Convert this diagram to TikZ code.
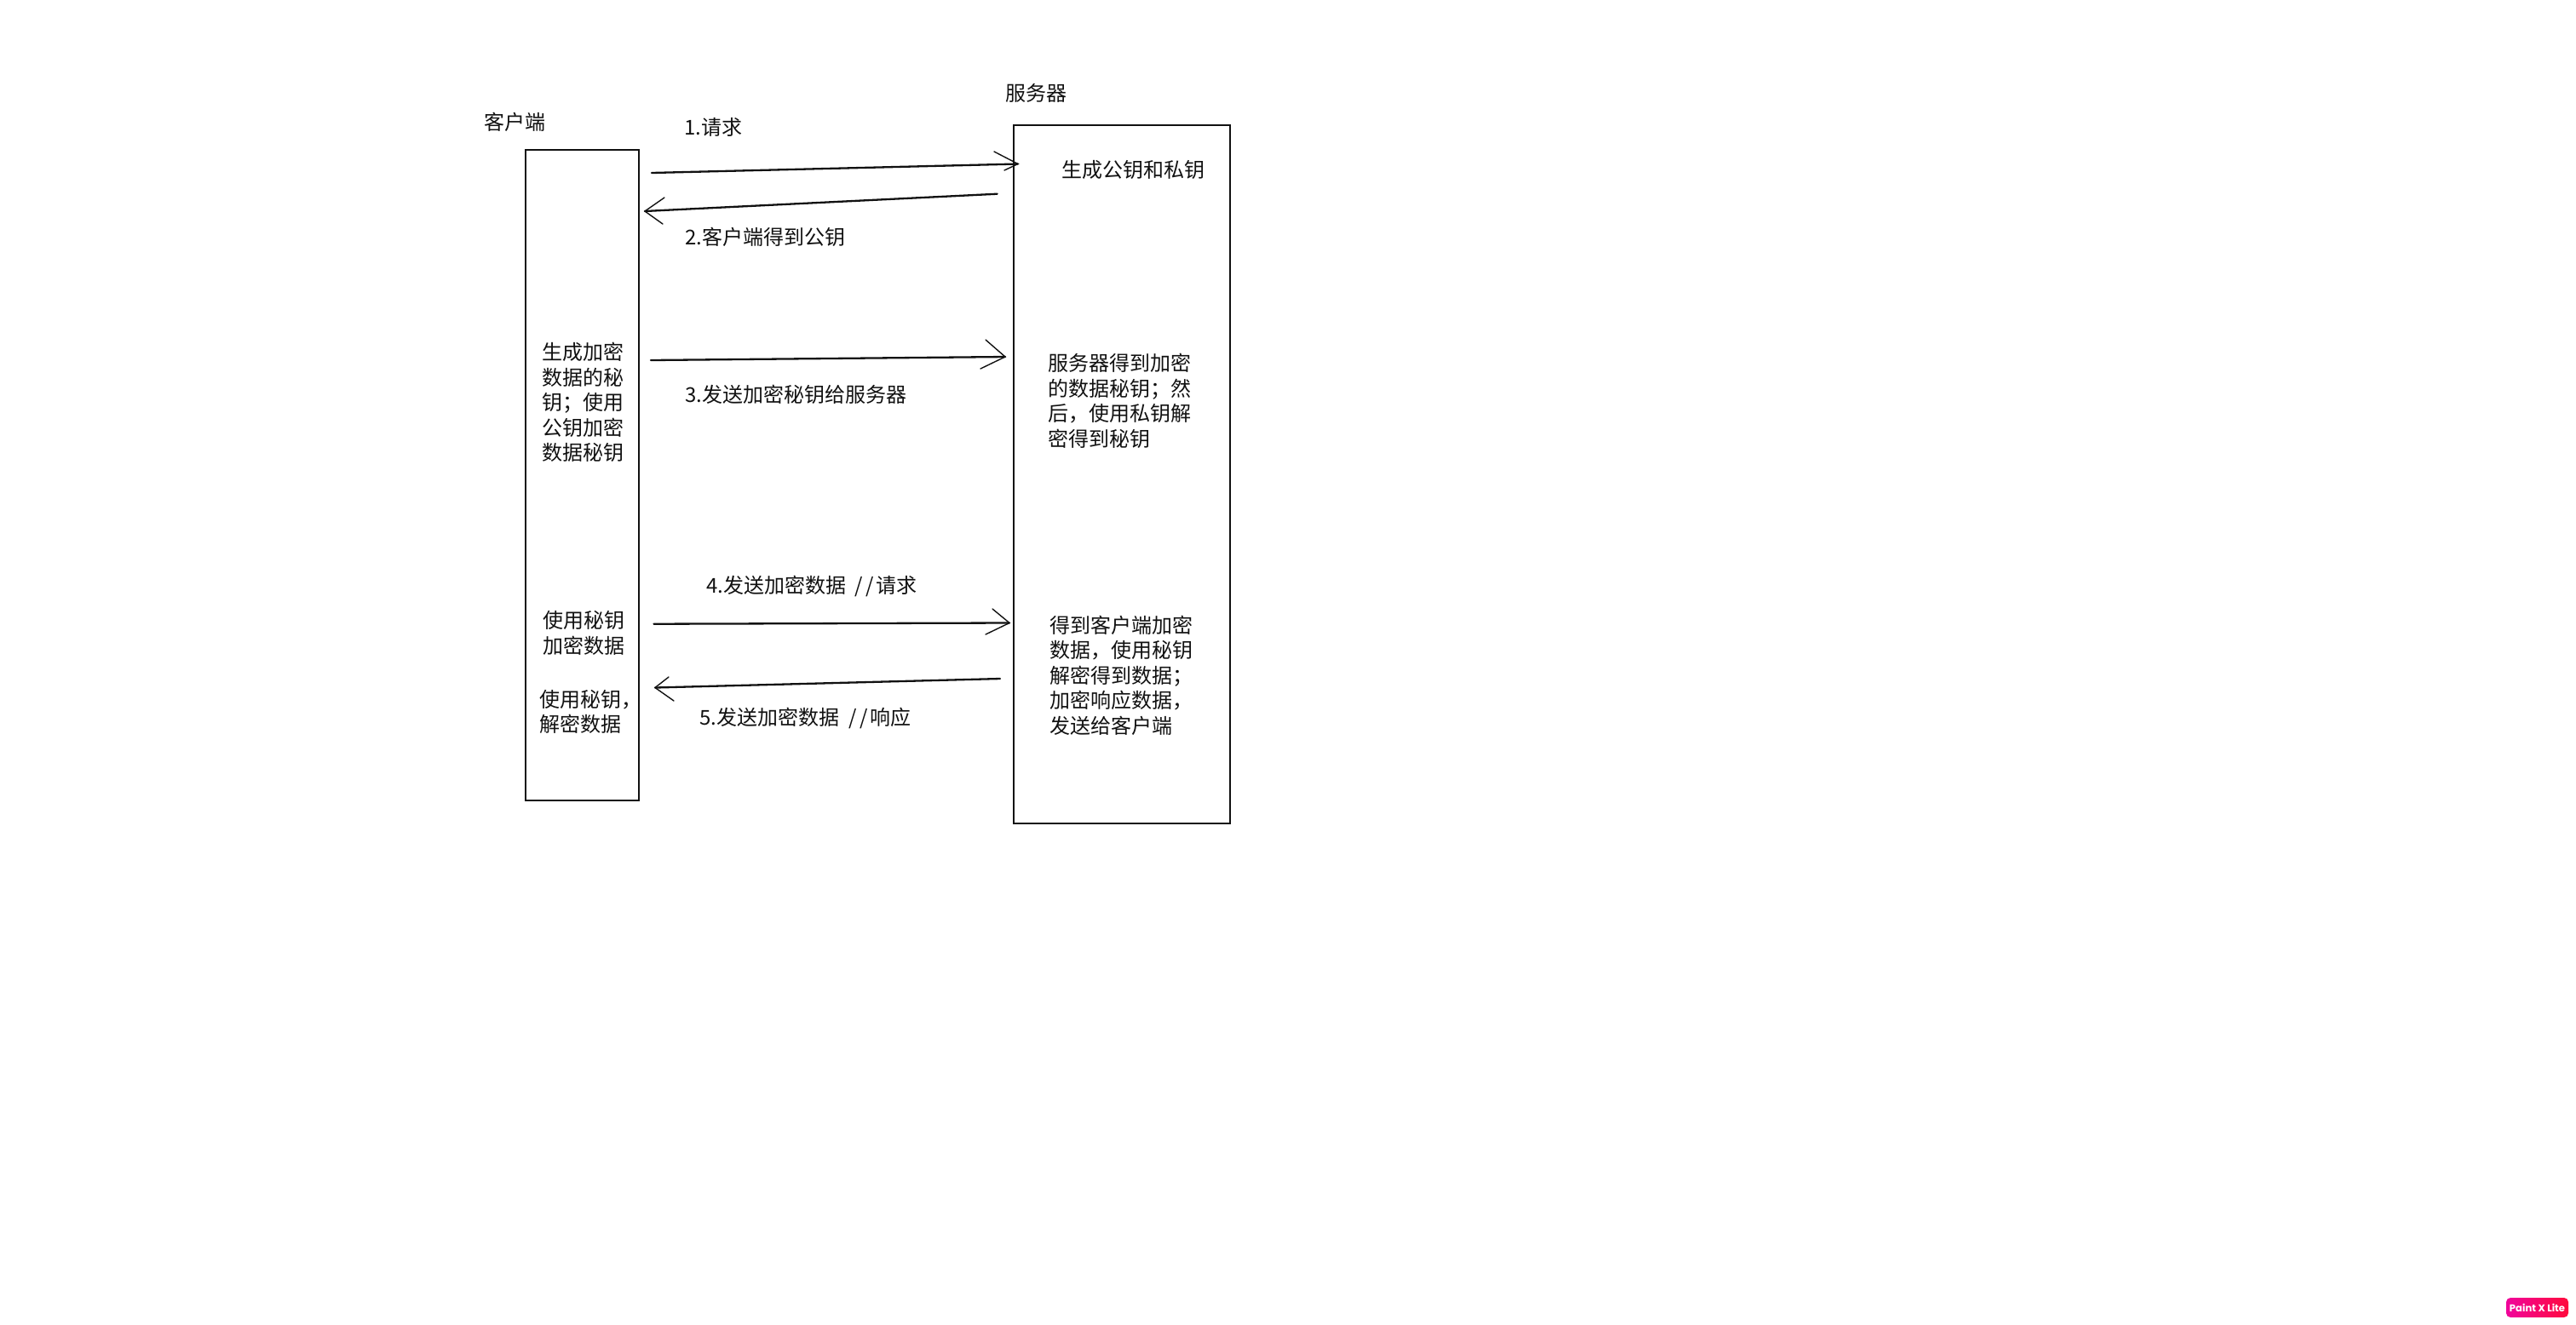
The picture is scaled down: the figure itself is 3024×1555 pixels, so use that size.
\documentclass[tikz,border=0pt]{standalone}
\usepackage{fontspec}
\setmainfont{Noto Sans CJK SC}
\newfontfamily\badgefont{Poppins}
\definecolor{badgeL}{HTML}{F0059B}
\definecolor{badgeR}{HTML}{FF0A3C}
\definecolor{inkc}{HTML}{111111}
\newcommand{\dblslash}{\hspace{2.8pt}/\kern1.8pt/\kern1.2pt}
\tikzset{
  box/.style={draw=inkc,line width=0.85pt,fill=none,inner sep=0pt,outer sep=0pt},
  lbl/.style={anchor=west,inner sep=0pt,outer sep=0pt,align=left,text=inkc,font=\fontsize{12}{14.75}\selectfont},
  shaft/.style={draw=inkc,line width=1.15pt,line cap=round},
  barb/.style={draw=inkc,line width=0.7pt,line cap=round,line join=miter},
}
\begin{document}
\begin{tikzpicture}[x=0.5pt,y=-0.5pt]
\useasboundingbox (0,0) rectangle (3024,1555);
% boxes
\node[box,minimum width=66.5pt,minimum height=382pt] (client) at (683.5,558) {};
\node[box,minimum width=127.25pt,minimum height=410pt] (server) at (1317,557) {};
% labels
\node[lbl] (tclient) at (568.5,143) {客户端};
\node[lbl] (tserver) at (1180.5,109) {服务器};
\node[lbl] (t1) at (803,149.5) {1.请求};
\node[lbl] (t2) at (804.5,278) {2.客户端得到公钥};
\node[lbl] (t3) at (804.5,463) {3.发送加密秘钥给服务器};
\node[lbl] (t4) at (829,688) {4.发送加密数据 \dblslash 请求};
\node[lbl] (t5) at (821.5,843) {5.发送加密数据 \dblslash 响应};
\node[lbl] (keys) at (1246,199) {生成公钥和私钥};
\node[lbl] (c1) at (636.5,472.7) {生成加密\\数据的秘\\钥；使用\\公钥加密\\数据秘钥};
\node[lbl] (c2) at (637.5,743.5) {使用秘钥\\加密数据};
\node[lbl] (c3) at (633.6,836) {使用秘钥，\\解密数据};
\node[lbl] (s1) at (1230,471) {服务器得到加密\\的数据秘钥；然\\后，使用私钥解\\密得到秘钥};
\node[lbl] (s2) at (1232.5,793) {得到客户端加密\\数据，使用秘钥\\解密得到数据；\\加密响应数据，\\发送给客户端};
% connector ends
\coordinate (a1s) at (765,203);  \coordinate (a1e) at (1195,192.5);
\coordinate (a1u) at (1167,178);   \coordinate (a1d) at (1179,200);
\coordinate (a2s) at (1170.6,227.7); \coordinate (a2e) at (757,248);
\coordinate (a2u) at (780,232);    \coordinate (a2d) at (778,263);
\coordinate (a3s) at (764,423);    \coordinate (a3e) at (1180,419);
\coordinate (a3u) at (1157,399);   \coordinate (a3d) at (1151,433);
\coordinate (a4s) at (767.5,732.7);  \coordinate (a4e) at (1185,731.5);
\coordinate (a4u) at (1165,715);   \coordinate (a4d) at (1157,745);
\coordinate (a5s) at (1174,797);   \coordinate (a5e) at (769,807.5);
\coordinate (a5u) at (785,795);    \coordinate (a5d) at (791,823);
% connectors
\foreach \n in {a1,a2,a3,a4,a5}{
  \draw[shaft] (\n s) -- (\n e);
  \draw[barb] (\n u) -- (\n e) -- (\n d);
}
% badge
\node[rounded corners=2.5pt,left color=badgeL,right color=badgeR,draw=none,inner sep=0pt,
      minimum width=36.5pt,minimum height=11.5pt,text=white,
      font=\badgefont\bfseries\fontsize{5.8}{7}\selectfont] (badge) at (2978.5,1535.5) {Paint X Lite};
\end{tikzpicture}
\end{document}
